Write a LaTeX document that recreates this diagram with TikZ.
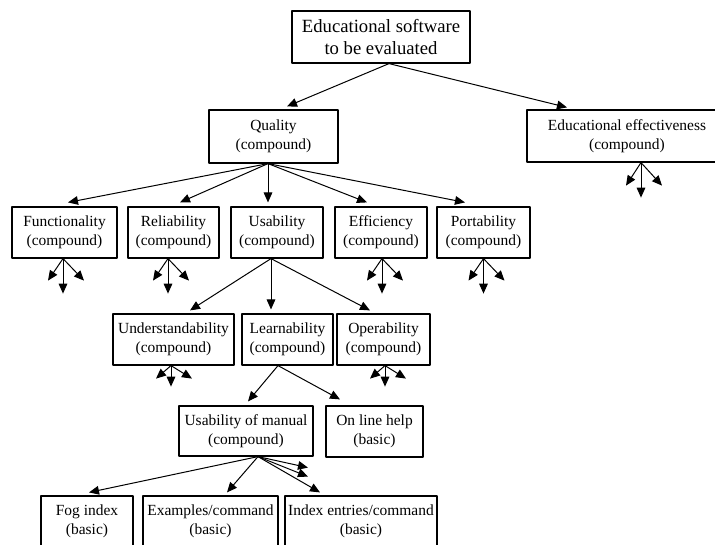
\documentclass[tikz,border=0pt]{standalone}
\usepackage{fontspec}
\setmainfont{Liberation Serif}
\usetikzlibrary{calc,arrows.meta}
\tikzset{
    blk/.style={
        draw, line width=0.9pt, align=center, inner sep=0pt,
        font=\fontsize{11.6}{14.25}\selectfont
    },
    big/.style={
        font=\fontsize{14}{17}\selectfont
    },
    wh/.style 2 args={
        minimum width=#1*0.75pt, minimum height=#2*0.75pt
    },
    arr/.style={
        line width=0.75pt, -{Triangle[length=7.5pt,width=6.5pt]}
    }
}
% three short arrows under a box: node, x offset, drop, side drop
\newcommand{\fan}[4]{%
    \coordinate (#1-o) at ($(#1.south)+(#2,0)$);
    \draw[arr] (#1-o) -- ($(#1-o)+(0,#3)$);
    \draw[arr] (#1-o) -- ($(#1-o)+(-15,#4)$);
    \draw[arr] (#1-o) -- ($(#1-o)+(21,#4)$);
}

\begin{document}
\begin{tikzpicture}[x=0.75pt,y=-0.75pt,line cap=round,line join=round]

% --- frame (pixels, y down) ---
    \useasboundingbox (0,0) rectangle (715,544);

% level 0 and 1
    \node[blk, big, wh={178}{52}] (top) at (381,37) {Educational software\\to be evaluated};
    \node[blk, wh={129}{53}] (qual) at (273.5,136.5) {Quality\\(compound)};
    \node[blk, wh={200}{52}] (effect) at (627,136) {Educational effectiveness\\(compound)};

% level 2
    \node[blk, wh={105}{51}] (func) at (64.5,232.5) {Functionality\\(compound)};
    \node[blk, wh={91}{51}]  (rel)  at (173.5,232.5) {Reliability\\(compound)};
    \node[blk, wh={92}{51}]  (usab) at (277,232.5) {Usability\\(compound)};
    \node[blk, wh={92}{51}]  (eff)  at (381,232.5) {Efficiency\\(compound)};
    \node[blk, wh={93}{51}]  (port) at (483.5,232.5) {Portability\\(compound)};

% level 3
    \node[blk, wh={121}{51}] (und)   at (173.5,339.5) {Understandability\\(compound)};
    \node[blk, wh={91}{51}]  (learn) at (287.5,339.5) {Learnability\\(compound)};
    \node[blk, wh={93}{51}]  (oper)  at (383.5,339.5) {Operability\\(compound)};

% level 4
    \node[blk, wh={134}{50}] (manual) at (246,431) {Usability of manual\\(compound)};
    \node[blk, wh={97}{51}]  (help)   at (374.5,431.5) {On line help\\(basic)};

% level 5
    \node[blk, wh={92}{51}]  (fog)  at (87,521.5) {Fog index\\(basic)};
    \node[blk, wh={135}{51}] (exam) at (210.5,521.5) {Examples/command\\(basic)};
    \node[blk, wh={152}{51}] (idx)  at (361,521.5) {Index entries/command\\(basic)};

% connectors
    \draw[arr] ($(top.south)+(8,0)$) -- ($(qual.north)+(13.5,-3)$);
    \draw[arr] ($(top.south)+(8,0)$) -- ($(effect.north)+(-60,-2)$);

    \draw[arr] ($(qual.south)+(-5.5,0)$) -- ($(func.north)+(3.5,-4)$);
    \draw[arr] ($(qual.south)+(-5.5,0)$) -- ($(rel.north)+(6.5,-4)$);
    \draw[arr] ($(qual.south)+(-5.5,0)$) -- ($(usab.north)+(-9,-4)$);
    \draw[arr] ($(qual.south)+(-5.5,0)$) -- ($(eff.north)+(-14,-4)$);
    \draw[arr] ($(qual.south)+(-5.5,0)$) -- ($(port.north)+(-18.5,-4)$);

    \draw[arr] ($(usab.south)+(-6,0)$) -- ($(und.north)+(16.5,-3)$);
    \draw[arr] ($(usab.south)+(-6,0)$) -- ($(learn.north)+(-16.5,-4)$);
    \draw[arr] ($(usab.south)+(-6,0)$) -- ($(oper.north)+(-13.5,-3)$);

    \draw[arr] ($(learn.south)+(-9.5,0)$) -- ($(manual.north)+(2,-4)$);
    \draw[arr] ($(learn.south)+(-9.5,0)$) -- ($(help.north)+(-34.5,-6)$);

    \coordinate (m1) at ($(manual.south)+(62,11)$);
    \coordinate (m2) at ($(manual.south)+(62,20)$);
    \draw[arr] ($(manual.south)+(12,0)$) -- ($(fog.north)+(2,-3)$);
    \draw[arr] ($(manual.south)+(12,0)$) -- ($(exam.north)+(16.5,-3)$);
    \draw[arr] ($(manual.south)+(12,0)$) -- ($(idx.north)+(-41,-3)$);
    \draw[arr] ($(manual.south)+(12,0)$) -- (m1);
    \draw[arr] ($(manual.south)+(12,0)$) -- (m2);

% unexpanded branches
    \fan{effect}{14}{35}{23}
    \fan{func}{-1.5}{35}{22}
    \fan{rel}{-5.5}{35}{22}
    \fan{eff}{1}{35}{22}
    \fan{port}{0}{35}{22}
    \fan{und}{-2.5}{21}{13}
    \fan{oper}{1.5}{21}{13}

\end{tikzpicture}
\end{document}
